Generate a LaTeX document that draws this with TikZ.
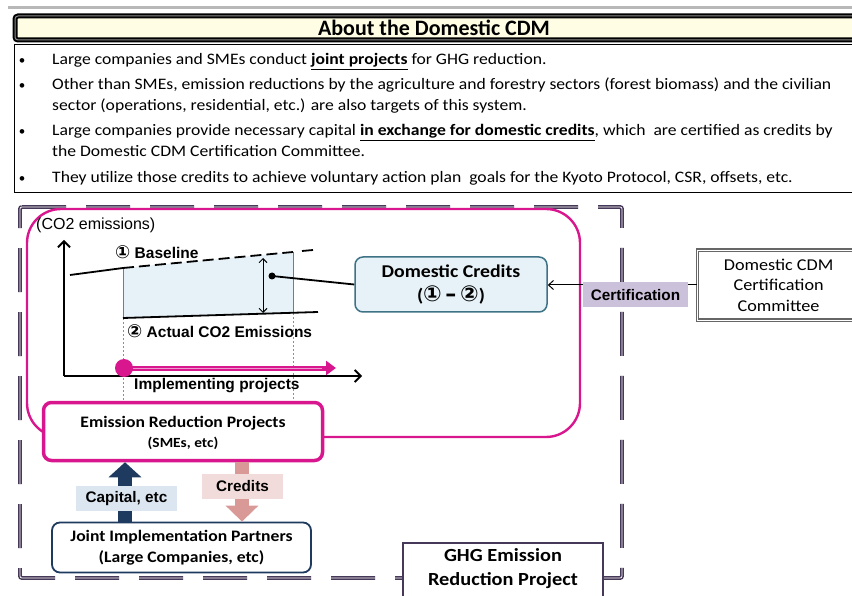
\documentclass[tikz,border=0pt]{standalone}
\usepackage{fontspec}
\setmainfont{Carlito}
\newfontfamily\bodyf[FakeStretch=1.1]{Carlito}
\newfontfamily\arialf{Liberation Sans}
\newfontfamily\djv{DejaVu Sans}
\usetikzlibrary{arrows.meta}
\definecolor{magen}{HTML}{D8178F}
\definecolor{frameP}{HTML}{463858}
\definecolor{navy}{HTML}{1F3A5F}
\definecolor{pinkA}{HTML}{D99A97}
\definecolor{pinkL}{HTML}{F2DCDB}
\definecolor{blueL}{HTML}{DCE6F1}
\definecolor{lav}{HTML}{CCC1DA}
\definecolor{credF}{HTML}{E6F2F8}
\definecolor{credD}{HTML}{3E7285}
\definecolor{teal}{HTML}{4A8CA3}
\definecolor{titleF}{HTML}{FFFEE4}
\definecolor{olive}{HTML}{8A9A5B}
\newcommand{\cA}{{\djv\fontsize{18}{18}\selectfont\char"2460}}
\newcommand{\cB}{{\djv\fontsize{18}{18}\selectfont\char"2461}}
\tikzset{
  txt/.style={inner sep=0pt, anchor=base west, font=\bodyf\fontsize{16}{18}\selectfont},
  bul/.style={inner sep=0pt, anchor=base, font=\fontsize{13}{15}\selectfont},
  chartlbl/.style={inner sep=0pt, font=\arialf\bfseries\fontsize{15.5}{17}\selectfont},
  axis/.style={line width=1.8pt, -{Straight Barb[length=6pt,width=12pt]}},
  rbox/.style={rounded corners=8pt, align=center, inner sep=0pt},
  tag/.style={inner sep=0pt, font=\arialf\bfseries\fontsize{15.3}{17}\selectfont},
}
\begin{document}
\begin{tikzpicture}[x=1pt,y=-1pt]
\useasboundingbox (0,0) rectangle (852,596);
% top gray bar
\draw[line width=3pt, color=black!28] (8,8) -- (852,8);
% title
\node[draw=black, line width=2pt, double=black!45, double distance=1pt, fill=titleF, rounded corners=3pt,
      minimum width=845pt, minimum height=24pt, anchor=west, inner sep=0pt] (title) at (14,28) {};
\node[inner sep=0pt, font=\bfseries\fontsize{22}{24}\selectfont] (titletxt) at (434,28) {About the Domestic CDM};
% bullet box
\node[draw=black, line width=0.8pt, minimum width=850pt, minimum height=148pt, anchor=north west, inner sep=0pt] (bbox) at (14,44) {};
\foreach \y in {65,90,136,183} { \node[bul] at (22,\y) {\textbullet}; }
\node[txt] (b1) at (52,65) {Large companies and SMEs conduct \underline{\textbf{joint projects}} for GHG reduction.};
\node[txt] (b2) at (52,90) {Other than SMEs, emission reductions by the agriculture and forestry sectors (forest biomass) and the civilian};
\node[txt] (b2b) at (52,111) {sector (operations, residential, etc.) are also targets of this system.};
\node[txt] (b3) at (52,136) {Large companies provide necessary capital \underline{\textbf{in exchange for domestic credits}}, which\ \ are certified as credits by};
\node[txt] (b3b) at (52,157) {the Domestic CDM Certification Committee.};
\node[txt] (b4) at (52,183) {They utilize those credits to achieve voluntary action plan\ \ goals for the Kyoto Protocol, CSR, offsets, etc.};
% dashed big frame
\draw[frameP, line width=1.6pt, double=white, double distance=0.7pt, dash pattern=on 44pt off 20pt, rounded corners=2pt]
  (20,207) -- (622,207) -- (622,578) -- (20,578) -- cycle;
% magenta frame
\draw[magen, line width=2.4pt, rounded corners=34pt] (27,209) rectangle (580,437);
% chart
\fill[credF] (123,268) -- (293,252) -- (293,313) -- (123,318) -- cycle;
\draw[teal, line width=0.8pt] (123,268) -- (123,318) (293,252) -- (293,313);
\draw[olive, line width=0.6pt, dash pattern=on 2pt off 2pt] (123,318) -- (123,400) (293,313) -- (293,400);
\coordinate (yo) at (64,376);
\coordinate (ytop) at (64,240);
\coordinate (xend) at (362,376);
\draw[axis] (yo) -- (ytop);
\draw[axis] (yo) -- (xend);
\coordinate (bl0) at (70,275);
\coordinate (bl1) at (123,268);
\coordinate (bl2) at (293,252);
\coordinate (bl3) at (302,251);
\coordinate (bl4) at (313,250);
\draw[line width=1.8pt] (bl0) -- (bl1);
\draw[line width=1.8pt, dash pattern=on 11pt off 5pt] (bl1) -- (bl2);
\draw[line width=1.8pt] (bl3) -- (bl4);
\coordinate (ac0) at (123,318);
\coordinate (ac1) at (318,312);
\draw[line width=1.8pt] (ac0) -- (ac1);
\coordinate (da) at (263,258);
\coordinate (db) at (263,313);
\draw[line width=1pt, {Straight Barb[length=4pt,width=8pt]}-{Straight Barb[length=4pt,width=8pt]}] (da) -- (db);
\node[inner sep=0pt, anchor=west, font=\arialf\fontsize{16}{18}\selectfont] (co2) at (36,225) {(CO2 emissions)};
\node[chartlbl, anchor=west] (basel) at (115,252) {\cA\ Baseline};
\node[chartlbl, anchor=west] (actual) at (127,331) {\cB\ Actual CO2 Emissions};
\node[chartlbl, anchor=west] (impl) at (134,386) {Implementing projects};
% magenta implementing arrow
\node[circle, fill=magen, inner sep=0pt, minimum size=18pt] (dotm) at (124,368) {};
\coordinate (impend) at (336,368);
\draw[magen, line width=5pt, -{Triangle[length=10pt,width=14pt]}] (dotm.center) -- (impend);
\draw[magen!45, line width=0.8pt] (dotm.east) -- (322,368);
% domestic credits
\node[rbox, draw=credD, line width=1.5pt, fill=credF, minimum width=192pt, minimum height=55pt,
      font=\bodyf\bfseries\fontsize{18}{24}\selectfont] (dc) at (451,284.5) {Domestic Credits\\({\djv\fontsize{22}{22}\selectfont\char"2460\,–\,\char"2461})};
\node[circle, fill=black, inner sep=0pt, minimum size=7pt] (dot) at (272,276) {};
\draw[line width=1.8pt] (dot.center) -- (dc.west);
% committee
\node[draw=black!60, line width=1.2pt, double=white, double distance=0.8pt, fill=white, minimum width=162pt, minimum height=70pt,
      align=center, anchor=west, inner sep=0pt, font=\bodyf\fontsize{16.5}{20.5}\selectfont] (cdm) at (697,285) {Domestic CDM\\Certification\\Committee};
\draw[line width=1pt, -{Straight Barb[length=5pt,width=9pt]}] (cdm.west) -- (dc.east |- cdm.west);
\node[tag, fill=lav, minimum width=105pt, minimum height=25pt] (cert) at (635.5,295) {Certification};
% GHG box
\node[draw=frameP, line width=1.5pt, fill=white, minimum width=200pt, minimum height=70pt, anchor=north, inner sep=0pt] (ghg) at (503,542) {};
\node[inner sep=0pt, align=center, font=\bodyf\bfseries\fontsize{18.5}{24}\selectfont] (ghgt) at (503,569) {GHG Emission\\Reduction Project};
% ERP box
\node[rbox, draw=magen, line width=3.5pt, fill=white, minimum width=279pt, minimum height=58pt] (erp) at (183,431.5) {};
\node[inner sep=0pt, font=\bodyf\bfseries\fontsize{16}{17}\selectfont] (erp1) at (183,423) {Emission Reduction Projects};
\node[inner sep=0pt, font=\bodyf\bfseries\fontsize{14}{15}\selectfont] (erp2) at (183,443) {(SMEs, etc)};
% JIP box
\node[rbox, draw=navy, line width=1.8pt, fill=white, minimum width=259pt, minimum height=50pt,
      font=\bodyf\bfseries\fontsize{16}{21}\selectfont] (jip) at (181.5,547.5) {Joint Implementation Partners\\(Large Companies, etc)};
% block arrows
\coordinate (capx) at (125,0);
\coordinate (crx) at (242,0);
\draw[navy, line width=14pt, -{Triangle[length=15pt,width=32pt]}] (jip.north -| capx) -- (erp.south -| capx);
\draw[pinkA, line width=14pt, -{Triangle[length=16pt,width=32pt]}] (erp.south -| crx) -- (jip.north -| crx);
\node[tag, fill=blueL, minimum width=101pt, minimum height=25pt] (cap) at (126.5,498.5) {Capital, etc};
\node[tag, fill=pinkL, minimum width=81pt, minimum height=25pt] (cred) at (242.5,486.5) {Credits};
\end{tikzpicture}
\end{document}
